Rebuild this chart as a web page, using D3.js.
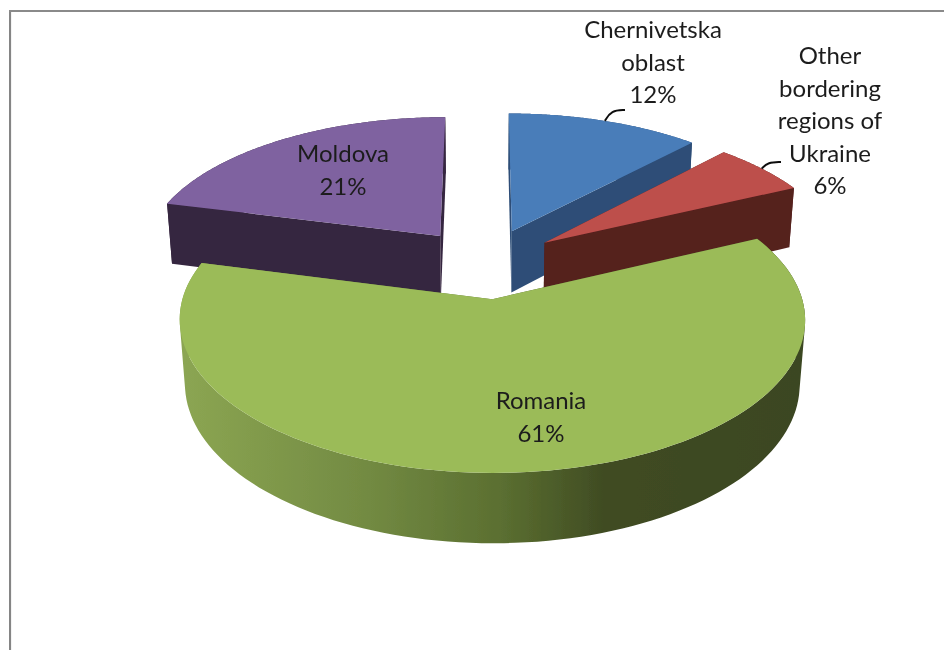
<!DOCTYPE html>
<html>
<head>
<meta charset="utf-8">
<script src="https://cdn.jsdelivr.net/npm/d3@7"></script>
<style>
  html, body { margin: 0; padding: 0; background: #fff; }
  svg { display: block; }
  text { font-family: Lato, "Open Sans", sans-serif; font-size: 24px; fill: #1c1c1c; text-anchor: middle; }
</style>
</head>
<body>
<svg width="944" height="650"></svg>
<script>
var categories = ["Chernivetska oblast", "Other bordering regions of Ukraine", "Romania", "Moldova"];
var values = [12, 6, 61, 21];
var labelLines = [
  ["Chernivetska", "oblast"],
  ["Other", "bordering", "regions of", "Ukraine"],
  ["Romania"],
  ["Moldova"]
];

var topColors = ["#4a7db9", "#bd4f4b", "#9bbb59", "#7f62a0"];
var wallColors = ["#2d4e77", "#55201e", "url(#romaniaWall)", "#35253f"];

// first text baseline of each label, and where its leader line ends (if any)
var labelX = [653, 830, 541, 343];
var labelY = [38, 64, 409, 162];
var leaderEnd = [[625, 110], [781, 162], null, null];

var svg = d3.select("svg"),
    width = +svg.attr("width"),
    height = +svg.attr("height");

// camera, fitted to the reference picture
var cx = 485, cy = 263,
    focal = 2033, elev = 28 * Math.PI / 180,
    dist = 6.78, explode = 0.25, thick = 0.24;
var sinE = Math.sin(elev), cosE = Math.cos(elev);

function project(x, y, z) {
  var depth = dist + y * cosE - z * sinE;
  return {
    x: cx + focal * x / depth,
    y: cy - focal * (y * sinE + z * cosE) / depth,
    depth: depth
  };
}

var pie = d3.pie().sort(null).value(d => d);
var slices = pie(values);

function rimPoint(s, angle, r, z) {
  var mid = (s.startAngle + s.endAngle) / 2;
  return project(r * Math.sin(angle) + explode * Math.sin(mid),
                 r * Math.cos(angle) + explode * Math.cos(mid), z);
}

function arcPoints(s, z) {
  var a = d3.scaleLinear().domain([0, 120]).range([s.startAngle, s.endAngle]);
  return d3.range(121).map(i => rimPoint(s, a(i), 1, z));
}

var line = d3.line().x(d => d.x).y(d => d.y);
function closed(pts) { return line(pts) + "Z"; }

// the curved wall as one path of small quads, all wound the same way,
// so the side where the wall turns away from us stays filled
function wallPath(top, bottom) {
  return d3.range(top.length - 1).map(function(i) {
    var q = [top[i], top[i + 1], bottom[i + 1], bottom[i]];
    var area = d3.polygonArea(q.map(p => [p.x, p.y]));
    return closed(area < 0 ? q.slice().reverse() : q);
  }).join("");
}

var defs = svg.append("defs");
defs.append("filter").attr("id", "soft")
  .attr("x", 0).attr("y", 0).attr("width", 1).attr("height", 1)
  .append("feGaussianBlur").attr("stdDeviation", 0.6);

var grad = defs.append("linearGradient")
    .attr("id", "romaniaWall")
    .attr("gradientUnits", "userSpaceOnUse")
    .attr("x1", 185).attr("x2", 800).attr("y1", 0).attr("y2", 0);
[[0, "#8ba552"], [0.3, "#728a42"], [0.52, "#5a6e30"], [0.68, "#404c23"], [1, "#3b4620"]]
  .forEach(d => grad.append("stop").attr("offset", d[0]).attr("stop-color", d[1]));

var root = svg.append("g").attr("filter", "url(#soft)");

// frame of the pasted chart
root.append("path")
  .attr("d", "M9.5," + height + "V10")
  .attr("fill", "none")
  .attr("stroke", "#858585")
  .attr("stroke-width", 3.2);
root.append("path")
  .attr("d", "M9,11H" + width)
  .attr("fill", "none")
  .attr("stroke", "#8a8a8a")
  .attr("stroke-width", 2.2);

// back slices first, Romania sits in front of everything
var drawOrder = [0, 3, 1, 2];

drawOrder.forEach(function(i) {
  var s = slices[i];
  var top = arcPoints(s, 0), bottom = arcPoints(s, -thick);
  var apexTop = rimPoint(s, 0, 0, 0), apexBottom = rimPoint(s, 0, 0, -thick);
  var g = root.append("g").attr("class", "slice");

  var faces = [
    { pts: [apexTop, top[0], bottom[0], apexBottom] },
    { pts: [apexTop, top[top.length - 1], bottom[bottom.length - 1], apexBottom] },
    { pts: top.concat(bottom), d: wallPath(top, bottom) }
  ];
  faces.sort((a, b) => d3.mean(b.pts, p => p.depth) - d3.mean(a.pts, p => p.depth));
  faces.forEach(function(f) {
    g.append("path").attr("d", f.d || closed(f.pts)).attr("fill", wallColors[i]);
  });
  g.append("path").attr("d", closed([apexTop].concat(top))).attr("fill", topColors[i]);
});

// leader lines start on the rim at the middle of the slice
var leader = d3.line().curve(d3.curveBundle.beta(0.9)).x(d => d[0]).y(d => d[1]);
slices.forEach(function(s, i) {
  if (!leaderEnd[i]) return;
  var p = rimPoint(s, (s.startAngle + s.endAngle) / 2, 1, 0);
  var e = leaderEnd[i];
  root.append("path")
    .attr("d", leader([[p.x, p.y], [p.x + (e[0] - p.x) * 0.3, e[1]], e]))
    .attr("fill", "none")
    .attr("stroke", "#111")
    .attr("stroke-width", 2);
});

// data labels
var labels = root.selectAll("text.label")
  .data(categories)
  .enter().append("text")
    .attr("class", "label")
    .attr("y", (d, i) => labelY[i]);

labels.each(function(d, i) {
  var t = d3.select(this);
  labelLines[i].concat([values[i] + "%"]).forEach(function(txt, k) {
    t.append("tspan")
      .attr("x", labelX[i])
      .attr("dy", k ? 32.5 : 0)
      .text(txt);
  });
});
</script>
</body>
</html>
